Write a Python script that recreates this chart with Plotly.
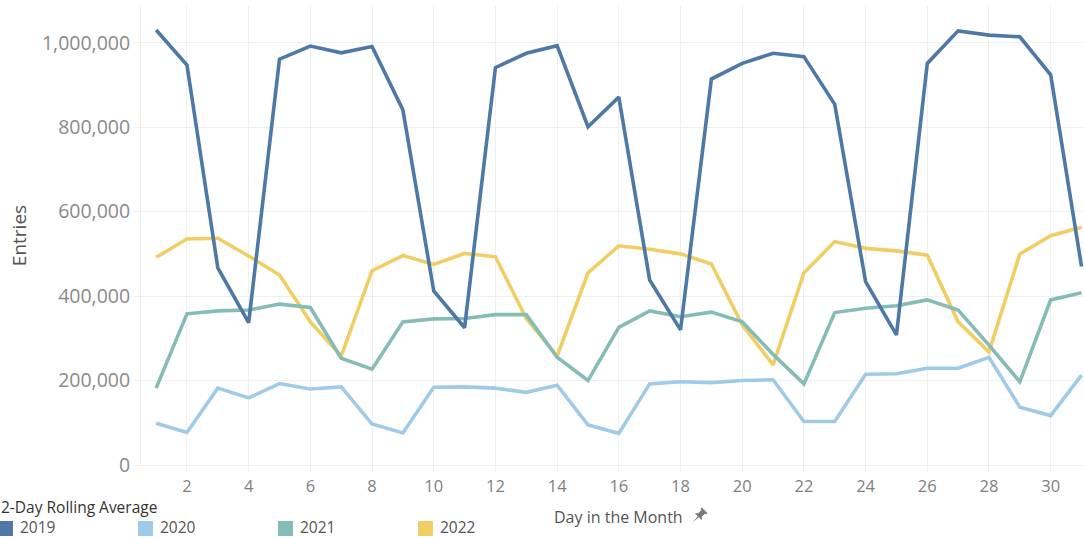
import numpy as np
import plotly.graph_objects as go

# ---------------- data ----------------
days = list(range(1, 32))
tick_days = list(range(2, 31, 2))

entries_2019 = [1030000, 947000, 467000, 337000, 961000, 992000, 976000, 991000, 841000, 412000,
                325000, 941000, 975000, 993000, 801000, 871000, 438000, 320000, 914000, 951000,
                975000, 967000, 854000, 434000, 308000, 951000, 1028000, 1018000, 1014000, 924000,
                470000]
entries_2020 = [99000, 77000, 182000, 159000, 193000, 180000, 185000, 97000, 76000, 184000,
                185000, 182000, 172000, 189000, 95000, 75000, 192000, 197000, 195000, 200000,
                202000, 103000, 103000, 215000, 216000, 229000, 229000, 255000, 137000, 117000,
                213000]
entries_2021 = [182000, 358000, 365000, 367000, 381000, 373000, 253000, 227000, 339000, 346000,
                347000, 356000, 356000, 255000, 200000, 326000, 365000, 351000, 362000, 339000,
                262000, 192000, 361000, 371000, 377000, 391000, 367000, 284000, 197000, 391000,
                408000]
entries_2022 = [492000, 535000, 537000, 495000, 450000, 339000, 258000, 460000, 496000, 475000,
                501000, 493000, 347000, 258000, 455000, 519000, 511000, 500000, 476000, 332000,
                237000, 455000, 529000, 513000, 507000, 497000, 339000, 268000, 500000, 543000,
                563000]

years = ["2019", "2020", "2021", "2022"]
series = [entries_2019, entries_2020, entries_2021, entries_2022]
colors = ["#4e79a7", "#a0cbe8", "#86bcb6", "#f1ce63"]

legend_title = "2-Day Rolling Average"
x_title = "Day in the Month"
y_title = "Entries"

# ---------------- layout geometry ----------------
W, H = 1084, 538
ML, MR, MT, MB = 141, 0, 6, 73
PW, PH = W - ML - MR, H - MT - MB
FONT = "Open Sans"


def px_x(p):
    return (p - ML) / PW


def px_y(p):
    return (H - MB - p) / PH


fig = go.Figure()

# draw later years first so 2019 sits on top
for name, vals, col in reversed(list(zip(years, series, colors))):
    fig.add_trace(go.Scatter(
        x=days, y=vals, mode="lines", name=name,
        line=dict(color=col, width=3.6), showlegend=False,
        hovertemplate="Day %{x}<br>%{y:,}<extra>" + name + "</extra>",
    ))

# ---------------- manual Tableau-style legend ----------------
annotations = [dict(
    text=legend_title, xref="paper", yref="paper", x=px_x(0), y=px_y(507),
    xanchor="left", yanchor="middle", showarrow=False, borderpad=0,
    font=dict(family=FONT, size=15.5, color="#333333"),
)]
shapes = []
for i, (name, col) in enumerate(zip(years, colors)):
    left = 140 * i
    shapes.append(dict(
        type="rect", xref="paper", yref="paper",
        x0=px_x(left - 2), x1=px_x(left + 13), y0=px_y(536), y1=px_y(521),
        fillcolor=col, line=dict(width=0), layer="above",
    ))
    annotations.append(dict(
        text=name, xref="paper", yref="paper", x=px_x(left + 19), y=px_y(527),
        xanchor="left", yanchor="middle", showarrow=False, borderpad=0,
        font=dict(family=FONT, size=15.5, color="#555555"),
    ))

# x title (annotation so the pin icon can sit next to it)
annotations.append(dict(
    text=x_title, xref="paper", yref="paper", x=px_x(618), y=px_y(517),
    xanchor="center", yanchor="middle", showarrow=False,
    font=dict(family=FONT, size=16, color="#555555"),
))

# small pushpin icon next to the x title
pin = np.array([
    [-4, 8], [4, 8], [4, 6], [2.5, 6], [2.5, 1.5], [5, -1], [0.7, -1], [0, -9],
    [-0.7, -1], [-5, -1], [-2.5, 1.5], [-2.5, 6], [-4, 6],
])
th = np.deg2rad(-45)
rot = np.array([[np.cos(th), -np.sin(th)], [np.sin(th), np.cos(th)]])
pin_r = pin @ rot.T
cx, cy = 699, 516
path = "M" + " L".join(f"{px_x(cx + a):.5f},{px_y(cy - b):.5f}" for a, b in pin_r) + " Z"
shapes.append(dict(type="path", xref="paper", yref="paper", path=path,
                   fillcolor="#7a7a7a", line=dict(width=0), layer="above"))

grid = "#efefef"
fig.update_layout(
    width=W, height=H,
    margin=dict(l=ML, r=MR, t=MT, b=MB, autoexpand=False),
    paper_bgcolor="white", plot_bgcolor="white",
    font=dict(family=FONT, color="#555555"),
    showlegend=False,
    annotations=annotations, shapes=shapes,
    xaxis=dict(
        range=[0.51, 31.08], tickmode="array", tickvals=tick_days,
        ticktext=[str(d) for d in tick_days],
        showgrid=True, gridcolor=grid, gridwidth=1,
        zeroline=False, showline=True, linecolor=grid, linewidth=1,
        ticks="outside", ticklen=6, tickcolor=grid,
        tickfont=dict(family=FONT, size=16.5, color="#7f7f7f"),
    ),
    yaxis=dict(
        range=[0, 1086900], tickmode="array",
        tickvals=[0, 200000, 400000, 600000, 800000, 1000000],
        tickformat=",d",
        showgrid=True, gridcolor=grid, gridwidth=1,
        zeroline=False, showline=True, linecolor=grid, linewidth=1,
        ticks="outside", ticklen=6, tickcolor=grid,
        tickfont=dict(family=FONT, size=19.5, color="#8a8a8a"),
        title=dict(text=y_title, standoff=10,
                   font=dict(family=FONT, size=19, color="#555555")),
    ),
)

fig.write_html(
    "out.html",
    config={"displayModeBar": False},
    post_script="document.body.style.margin='0';document.body.style.overflow='hidden';",
)
